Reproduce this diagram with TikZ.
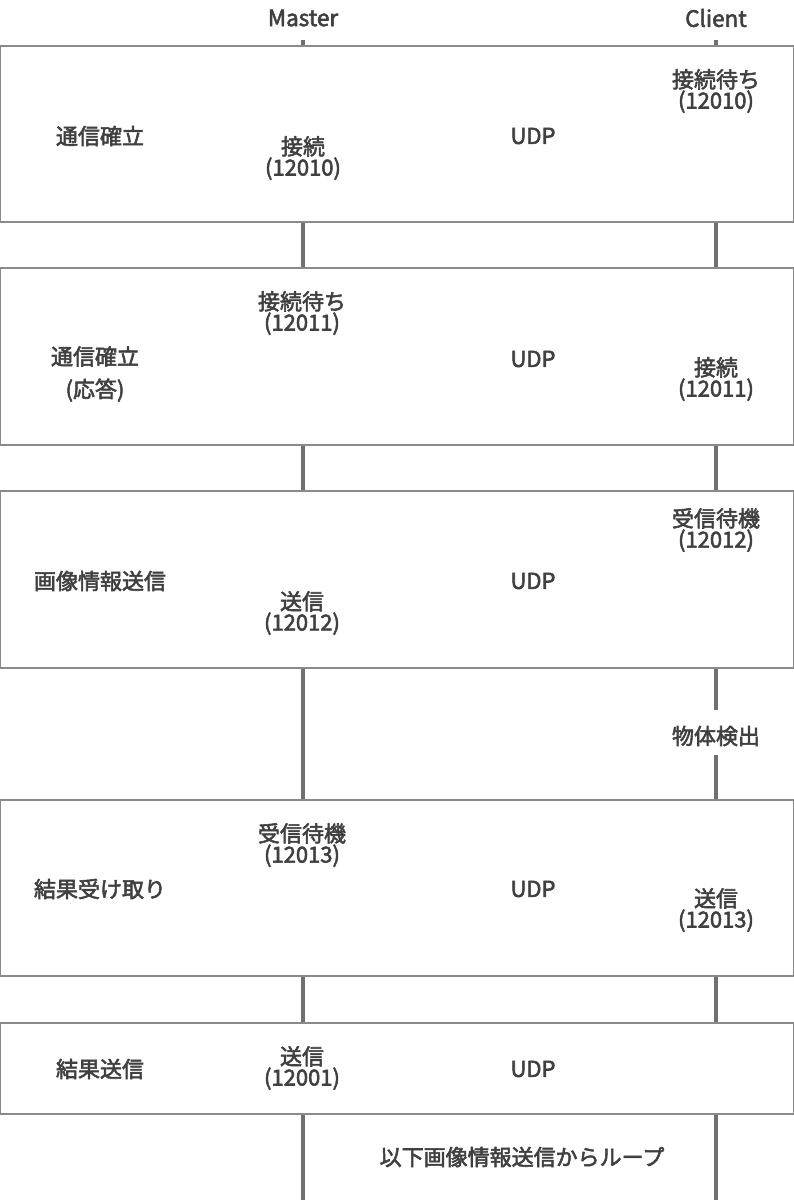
\documentclass[tikz,border=0pt]{standalone}
\usepackage{fontspec}
\setmainfont{Noto Sans CJK JP}[FakeBold=2.5]
\definecolor{txt}{HTML}{404040}
\definecolor{lifec}{HTML}{707070}
\definecolor{boxc}{HTML}{8A8A8A}
\begin{document}
\begin{tikzpicture}[x=1pt,y=-1pt,
  life/.style={draw=lifec,line width=4.5pt},
  box/.style={draw=boxc,line width=1.3pt,fill=white,minimum width=792.5pt,inner sep=0pt},
  lbl/.style={text=txt,font=\fontsize{22}{19}\selectfont,align=center,inner sep=0pt},
  head/.style={text=txt,font=\fontsize{22.5}{19}\selectfont,inner sep=0pt}]
\useasboundingbox (0,0) rectangle (794,1200);
% lifelines
\coordinate (mtop) at (303,40);
\coordinate (mbot) at (303,1200);
\coordinate (ctop) at (716,40);
\coordinate (cbot) at (716,1200);
\node[head] (master) at (303,18) {Master};
\node[head] (client) at (716,18) {Client};
\node[lbl] (det) at (716,736) {物体検出};
\coordinate (detN) at (716,710);
\coordinate (detS) at (716,755);
\draw[life] (mtop) -- (mbot);
\draw[life] (ctop) -- (detN);
\draw[life] (detS) -- (cbot);
% boxes
\node[box,minimum height=176pt] (b1) at (397,134) {};
\node[box,minimum height=177pt] (b2) at (397,356.5) {};
\node[box,minimum height=177pt] (b3) at (397,579.5) {};
\node[box,minimum height=176pt] (b4) at (397,888) {};
\node[box,minimum height=91pt] (b5) at (397,1068.5) {};
% box 1
\node[lbl] (t1) at (100,136) {通信確立};
\node[lbl] (m1) at (303,158) {接続\\(12010)};
\node[lbl] (u1) at (533,136) {UDP};
\node[lbl] (c1) at (716,91) {接続待ち\\(12010)};
% box 2
\node[lbl] (t2) at (95,374) {通信確立\\[11pt](応答)};
\node[lbl] (m2) at (302,313) {接続待ち\\(12011)};
\node[lbl] (u2) at (533,359) {UDP};
\node[lbl] (c2) at (716,379) {接続\\(12011)};
% box 3
\node[lbl] (t3) at (100,581) {画像情報送信};
\node[lbl] (m3) at (302,613) {送信\\(12012)};
\node[lbl] (u3) at (533,581) {UDP};
\node[lbl] (c3) at (716,530) {受信待機\\(12012)};
% box 4
\node[lbl] (t4) at (100,889) {結果受け取り};
\node[lbl] (m4) at (302,845) {受信待機\\(12013)};
\node[lbl] (u4) at (533,889) {UDP};
\node[lbl] (c4) at (716,910) {送信\\(12013)};
% box 5
\node[lbl] (t5) at (100,1069) {結果送信};
\node[lbl] (m5) at (302,1068) {送信\\(12001)};
\node[lbl] (u5) at (533,1069) {UDP};
% bottom
\node[lbl] (loop) at (522,1157) {以下画像情報送信からループ};
\end{tikzpicture}
\end{document}
